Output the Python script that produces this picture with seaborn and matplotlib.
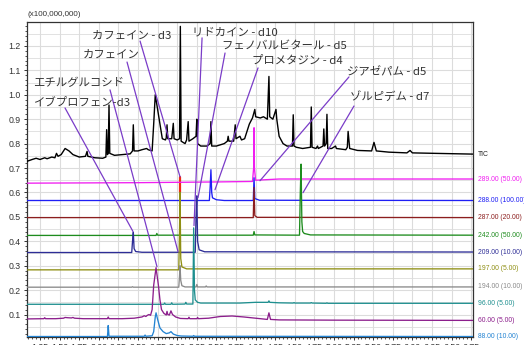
import numpy as np
import pandas as pd
import matplotlib
matplotlib.use("Agg")
import matplotlib.pyplot as plt
import matplotlib.transforms as mtransforms
from matplotlib.ticker import MultipleLocator, FormatStrFormatter
import seaborn as sns

# ---------------- data (retention time [min], intensity x1e8) ----------------
tic_t = [1.08, 1.15, 1.20, 1.25, 1.31, 1.34, 1.40, 1.44, 1.46, 1.48, 1.52, 1.57, 1.62, 1.67, 1.75,
         1.83, 1.85, 1.86, 1.95, 2.05, 2.09, 2.10, 2.11, 2.12, 2.13, 2.14, 2.20, 2.30, 2.40, 2.43,
         2.44, 2.45, 2.50, 2.55, 2.61, 2.63, 2.68, 2.70, 2.72, 2.74, 2.78, 2.81, 2.85, 2.86, 2.87,
         2.88, 2.93, 2.95, 2.96, 3.00, 3.03, 3.04, 3.05, 3.10, 3.12, 3.14, 3.15, 3.20, 3.24, 3.25,
         3.26, 3.30, 3.38, 3.42, 3.43, 3.44, 3.50, 3.60, 3.64, 3.65, 3.66, 3.72, 3.74, 3.75, 3.80,
         3.82, 3.86, 3.92, 3.96, 3.99, 4.00, 4.06, 4.10, 4.15, 4.17, 4.18, 4.22, 4.26, 4.27, 4.30,
         4.35, 4.40, 4.47, 4.48, 4.49, 4.52, 4.60, 4.70, 4.71, 4.72, 4.77, 4.79, 4.80, 4.86, 4.87,
         4.88, 4.90, 4.91, 4.92, 4.97, 5.02, 5.03, 5.15, 5.17, 5.18, 5.20, 5.30, 5.48, 5.51, 5.54,
         5.70, 5.93, 5.97, 6.00, 6.30, 6.77]
tic_v = [0.727, 0.735, 0.740, 0.735, 0.742, 0.738, 0.745, 0.742, 0.760, 0.748, 0.755, 0.780, 0.770, 0.755, 0.745,
         0.748, 0.768, 0.748, 0.742, 0.740, 0.745, 0.857, 0.755, 0.760, 0.958, 0.760, 0.752, 0.755, 0.758, 0.770,
         0.877, 0.770, 0.770, 0.775, 0.780, 0.775, 0.770, 0.880, 1.000, 0.960, 0.880, 0.820, 0.815, 0.823, 0.877,
         0.820, 0.820, 0.883, 0.820, 0.815, 0.820, 1.280, 0.810, 0.800, 0.815, 0.890, 0.810, 0.820, 0.830, 0.900,
         0.800, 0.790, 0.790, 0.800, 0.890, 0.790, 0.790, 0.800, 0.810, 0.830, 0.810, 0.810, 0.877, 0.820, 0.830,
         0.815, 0.820, 0.880, 0.905, 0.940, 0.910, 0.905, 0.910, 0.900, 1.075, 0.910, 0.900, 0.940, 0.900, 0.830,
         0.800, 0.790, 0.790, 0.918, 0.790, 0.785, 0.780, 0.785, 0.950, 0.785, 0.780, 0.790, 0.780, 0.790, 0.860,
         0.790, 0.800, 0.920, 0.780, 0.780, 0.790, 0.780, 0.775, 0.785, 0.850, 0.780, 0.772, 0.770, 0.805, 0.770,
         0.765, 0.762, 0.772, 0.762, 0.760, 0.757]

mz289_t = [1.08, 2.50, 3.50, 3.96, 3.975, 3.98, 3.985, 4.00, 4.30, 6.77]
mz289_v = [0.638, 0.640, 0.643, 0.645, 0.700, 0.865, 0.700, 0.650, 0.655, 0.655]

mz288_t = [1.08, 3.41, 3.42, 3.43, 3.44, 3.45, 3.50, 3.60, 3.97, 3.98, 3.99, 4.05, 6.77]
mz288_v = [0.567, 0.567, 0.620, 0.693, 0.600, 0.578, 0.570, 0.567, 0.567, 0.660, 0.575, 0.568, 0.567]

mz287_t = [1.08, 3.97, 3.98, 3.99, 4.02, 6.77]
mz287_v = [0.497, 0.497, 0.620, 0.505, 0.498, 0.497]

mz242_t = [1.08, 2.73, 2.74, 2.75, 3.97, 3.98, 3.99, 4.56, 4.57, 4.58, 4.59, 4.60, 4.62, 4.70, 6.77]
mz242_v = [0.424, 0.424, 0.432, 0.425, 0.425, 0.440, 0.426, 0.425, 0.600, 0.716, 0.480, 0.440, 0.432, 0.426, 0.425]

mz209_t = [1.08, 2.42, 2.43, 2.44, 2.45, 2.47, 2.55, 3.23, 3.24, 3.25, 3.26, 3.28, 3.35, 6.77]
mz209_v = [0.354, 0.354, 0.400, 0.437, 0.370, 0.358, 0.355, 0.355, 0.500, 0.586, 0.400, 0.365, 0.357, 0.356]

mz197_t = [1.08, 3.02, 3.03, 3.036, 3.045, 3.06, 3.12, 6.77]
mz197_v = [0.283, 0.283, 0.450, 0.600, 0.330, 0.295, 0.287, 0.287]

flag_t = [3.036, 3.036]
flag_v = [0.600, 0.665]

mz194_t = [1.08, 2.42, 2.43, 2.44, 3.02, 3.03, 3.036, 3.045, 3.06, 3.10, 3.24, 3.25, 3.26, 3.36, 3.37, 3.38, 6.77]
mz194_v = [0.212, 0.212, 0.214, 0.212, 0.212, 0.260, 0.300, 0.240, 0.218, 0.213, 0.213, 0.223, 0.213, 0.213, 0.217, 0.213, 0.213]

mz96_t = [1.08, 2.83, 2.84, 2.85, 2.92, 2.93, 2.94, 3.10, 3.11, 3.12, 3.20, 3.21, 3.22, 3.23, 3.26, 3.30,
          3.80, 4.00, 4.16, 4.17, 4.18, 4.30, 4.48, 4.49, 4.50, 4.70, 4.71, 4.72, 4.90, 4.91, 4.92, 5.50, 6.77]
mz96_v = [0.142, 0.142, 0.147, 0.142, 0.142, 0.148, 0.142, 0.143, 0.150, 0.143, 0.143, 0.455, 0.200, 0.160, 0.150, 0.147,
          0.147, 0.150, 0.150, 0.156, 0.150, 0.148, 0.147, 0.149, 0.147, 0.147, 0.149, 0.147, 0.146, 0.148, 0.146, 0.146, 0.146]

mz60_t = [1.08, 1.30, 1.31, 1.32, 1.45, 1.55, 1.57, 1.60, 1.65, 1.67, 1.69, 1.80, 2.00, 2.11, 2.12, 2.13,
          2.30, 2.45, 2.55, 2.58, 2.60, 2.62, 2.64, 2.66, 2.68, 2.70, 2.73, 2.76, 2.78, 2.80, 2.83, 2.86,
          2.87, 2.88, 2.90, 2.92, 2.94, 2.98, 3.04, 3.14, 3.15, 3.16, 3.25, 3.26, 3.27, 3.40, 3.55, 3.70,
          3.85, 4.00, 4.15, 4.17, 4.19, 4.30, 5.00, 6.77]
mz60_v = [0.082, 0.083, 0.087, 0.083, 0.083, 0.085, 0.088, 0.087, 0.086, 0.088, 0.085, 0.083, 0.083, 0.083, 0.090, 0.083,
          0.083, 0.085, 0.090, 0.095, 0.092, 0.097, 0.100, 0.097, 0.120, 0.220, 0.292, 0.220, 0.160, 0.120, 0.105, 0.098,
          0.113, 0.100, 0.098, 0.115, 0.100, 0.090, 0.084, 0.083, 0.089, 0.083, 0.083, 0.088, 0.083, 0.085, 0.092, 0.094,
          0.090, 0.085, 0.080, 0.107, 0.080, 0.078, 0.077, 0.076]

mz88_t = [1.08, 2.11, 2.115, 2.12, 2.13, 2.50, 2.58, 2.59, 2.60, 2.68, 2.70, 2.72, 2.73, 2.75, 2.78, 2.82,
          2.86, 2.90, 2.92, 2.95, 3.00, 3.05, 3.20, 3.21, 3.22, 6.77]
mz88_v = [0.010, 0.010, 0.030, 0.055, 0.011, 0.011, 0.011, 0.016, 0.011, 0.013, 0.030, 0.090, 0.107, 0.080, 0.045, 0.030,
          0.022, 0.025, 0.030, 0.020, 0.014, 0.012, 0.011, 0.014, 0.011, 0.010]

trace_names = ["TIC", "289.00 (50.00)", "288.00 (100.00)", "287.00 (20.00)", "242.00 (50.00)",
               "209.00 (10.00)", "197.00 (5.00)", "194.00 (10.00)", "96.00 (5.00)", "60.00 (5.00)", "88.00 (10.00)"]
trace_colors = ["#000000", "#f01ef0", "#1e1ef5", "#8c1e1e", "#1e8c1e", "#2d2d96", "#8f8f14",
                "#8a8a8a", "#1e8f8f", "#8c1e8c", "#2383d2"]

compound_labels = ["カフェイン - d3", "カフェイン", "エチルグルコシド", "イブプロフェン-d3", "リドカイン - d10",
                   "フェノバルビタール - d5", "プロメタジン - d4", "ジアゼパム - d5", "ゾルピデム - d7"]
label_x = [1.913, 1.798, 1.161, 1.161, 3.189, 3.571, 3.954, 5.166, 5.204]
label_y = [1.241, 1.163, 1.049, 0.967, 1.257, 1.200, 1.139, 1.094, 0.991]
leader_x0 = [2.526, 2.360, 2.143, 1.569, 3.317, 3.610, 4.031, 5.191, 5.255]
leader_y0 = [1.220, 1.134, 1.020, 0.946, 1.233, 1.171, 1.110, 1.073, 0.954]
leader_x1 = [3.036, 3.010, 2.742, 2.436, 3.214, 3.265, 3.482, 4.056, 4.605]
leader_y1 = [0.664, 0.358, 0.296, 0.440, 0.464, 0.578, 0.611, 0.648, 0.599]

# ---------------- figure ----------------
sns.set_theme(style="white")
plt.rcParams["font.family"] = ["Liberation Sans", "DejaVu Sans"]

fig = plt.figure(figsize=(5.24, 3.45), dpi=100)
ax = fig.add_axes([27 / 524, 1 - 337 / 345, (473 - 27) / 524, (337 - 22) / 345])

trace_t = [tic_t, mz289_t, mz288_t, mz287_t, mz242_t, mz209_t, mz197_t, mz194_t, mz96_t, mz60_t, mz88_t]
trace_v = [tic_v, mz289_v, mz288_v, mz287_v, mz242_v, mz209_v, mz197_v, mz194_v, mz96_v, mz60_v, mz88_v]

# red flag on clipped peak
sns.lineplot(x=flag_t, y=flag_v, ax=ax, color="#f02814", lw=1.6, sort=False, estimator=None, zorder=2)

for name, col, t, v in zip(trace_names, trace_colors, trace_t, trace_v):
    sns.lineplot(x=t, y=v, ax=ax, color=col, lw=1.0 if name == "TIC" else 0.95,
                 sort=False, estimator=None, zorder=3)
    ax.text(1.011, v[-1], name, transform=mtransforms.blended_transform_factory(ax.transAxes, ax.transData),
            color=col if name != "TIC" else "#222222", fontsize=4.9, va="center", ha="left", clip_on=False)

for i in range(len(compound_labels)):
    sns.lineplot(x=[leader_x0[i], leader_x1[i]], y=[leader_y0[i], leader_y1[i]], ax=ax,
                 color="#7a3cc8", lw=0.9, sort=False, estimator=None, zorder=5)
    ax.text(label_x[i], label_y[i], compound_labels[i], fontsize=8.2, color="#333333",
            family=["Noto Sans CJK JP", "DejaVu Sans"], va="center", ha="left", zorder=6)

ax.set_xlim(1.084, 6.773)
ax.set_ylim(0.008, 1.298)
ax.xaxis.set_major_locator(MultipleLocator(0.25))
ax.xaxis.set_minor_locator(MultipleLocator(0.05))
ax.xaxis.set_major_formatter(FormatStrFormatter("%.2f"))
ax.yaxis.set_major_locator(MultipleLocator(0.1))
ax.yaxis.set_minor_locator(MultipleLocator(0.02))
ax.yaxis.set_major_formatter(FormatStrFormatter("%.1f"))

ax.grid(True, which="major", axis="both", color="#dcdcdc", lw=0.8)
ax.grid(False, which="minor")
for yv in np.arange(0.05, 1.30, 0.1):
    ax.axhline(yv, color="#e2e2e2", lw=0.7, zorder=0)
ax.set_axisbelow(True)

ax.tick_params(axis="both", which="major", direction="out", length=2.5, width=0.7, color="#333333",
               labelsize=6.3, labelcolor="#333333", pad=2)
ax.tick_params(axis="both", which="minor", direction="out", length=1.5, width=0.6, color="#333333")
ax.tick_params(axis="x", which="major", pad=1.5)
ax.tick_params(left=True, bottom=True, which="both")
for s in ax.spines.values():
    s.set_color("#333333")
    s.set_linewidth(0.9)

ax.set_xlabel("")
ax.set_ylabel("")
fig.text(27 / 524, 1 - 15 / 345, "(x100,000,000)", fontsize=5.8, color="#333333", ha="left", va="center")

fig.savefig("out.png", dpi=100)
